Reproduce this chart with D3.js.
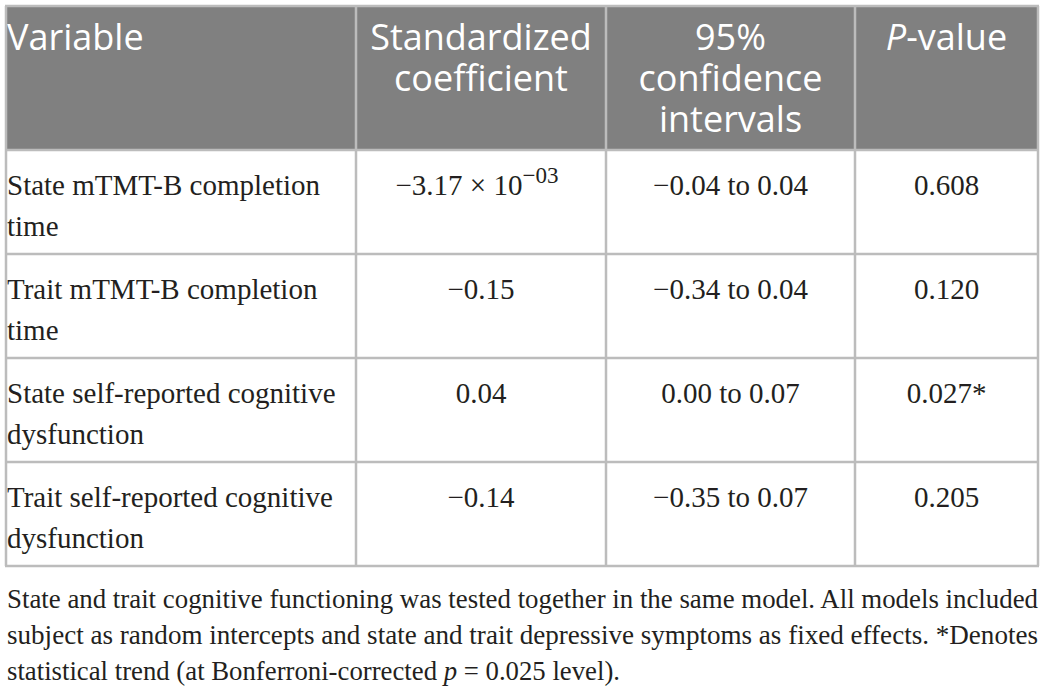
<!DOCTYPE html>
<html>
<head>
<meta charset="utf-8">
<script src="https://cdn.jsdelivr.net/npm/d3@7"></script>
<style>
  body { margin: 0; background: #fff; }
</style>
</head>
<body>
<script>
// table content
var headers = [["Variable"], ["Standardized", "coefficient"], ["95%", "confidence", "intervals"], ["P-value"]];
var variables = [
  ["State mTMT-B completion", "time"],
  ["Trait mTMT-B completion", "time"],
  ["State self-reported cognitive", "dysfunction"],
  ["Trait self-reported cognitive", "dysfunction"]
];
var coefs = ["\u22123.17 \u00d7 10|\u221203", "\u22120.15", "0.04", "\u22120.14"];
var cis = ["\u22120.04 to 0.04", "\u22120.34 to 0.04", "0.00 to 0.07", "\u22120.35 to 0.07"];
var pvalues = ["0.608", "0.120", "0.027*", "0.205"];
var notes = [
  "State and trait cognitive functioning was tested together in the same model. All models included",
  "subject as random intercepts and state and trait depressive symptoms as fixed effects. *Denotes",
  "statistical trend (at Bonferroni-corrected |p| = 0.025 level)."
];

var W = 1044, H = 695;
var svg = d3.select("body").append("svg")
    .attr("width", W)
    .attr("height", H);

// column edges and row bands
var colEdges = [6, 356, 606, 855, 1038];
var cols = d3.range(4);
var colX = d3.scaleOrdinal().domain(cols).range(colEdges.slice(0, 4));
var colW = function(i) { return colEdges[i + 1] - colEdges[i]; };
var y = d3.scaleBand().domain(d3.range(variables.length)).range([150, 566]);
var headTop = 6, headBottom = 150;
var lineColor = "#bcbcbc";

// header background
svg.append("rect")
    .attr("x", colEdges[0]).attr("y", headTop)
    .attr("width", colEdges[4] - colEdges[0]).attr("height", headBottom - headTop)
    .attr("fill", "#808080");

// header text
cols.forEach(function(i) {
  var g = svg.append("text")
      .attr("font-family", "'Open Sans', sans-serif")
      .attr("font-size", 36)
      .attr("fill", "#fff")
      .attr("text-anchor", i == 0 ? "start" : "middle");
  headers[i].forEach(function(line, k) {
    var t = g.append("tspan")
        .attr("x", i == 0 ? colX(i) + 1 : colX(i) + colW(i) / 2)
        .attr("y", 50 + k * 41);
    if (line == "P-value") {
      t.append("tspan").attr("font-style", "italic").text("P");
      t.append("tspan").text("-value");
    } else t.text(line);
  });
});

// body cells
var rows = svg.selectAll("g.row")
    .data(variables.map(function(v, i) {
      return {label: v, coef: coefs[i], ci: cis[i], p: pvalues[i], i: i};
    }))
  .enter().append("g")
    .attr("class", "row")
    .attr("transform", function(d) { return "translate(0," + y(d.i) + ")"; });

var serif = "'Liberation Serif', 'Times New Roman', serif";

rows.append("text")
    .attr("font-family", serif).attr("font-size", 29).attr("fill", "#231f20")
  .selectAll("tspan")
    .data(function(d) { return d.label; })
  .enter().append("tspan")
    .attr("x", colX(0) + 1)
    .attr("y", function(d, k) { return 45 + k * 41; })
    .text(function(d) { return d; });

rows.each(function(d) {
  var r = d3.select(this);
  [d.coef, d.ci, d.p].forEach(function(val, j) {
    var c = j + 1;
    var t = r.append("text")
        .attr("font-family", serif).attr("font-size", 29).attr("fill", "#231f20")
        .attr("text-anchor", "middle")
        .attr("x", colX(c) + colW(c) / 2 - (val.indexOf("|") > 0 ? 4 : 0))
        .attr("y", 45);
    var parts = val.split("|");
    t.append("tspan").text(parts[0]);
    if (parts.length > 1) {
      t.append("tspan").attr("font-size", 23).attr("dy", -12).text(parts[1]);
    }
  });
});

// grid lines
var hLines = [headTop].concat(y.domain().map(function(i) { return y(i); })).concat([566]);
svg.selectAll("line.h")
    .data(hLines)
  .enter().append("line")
    .attr("class", "h")
    .attr("x1", colEdges[0] - 1).attr("x2", colEdges[4] + 1)
    .attr("y1", function(d) { return d; }).attr("y2", function(d) { return d; })
    .attr("stroke", lineColor).attr("stroke-width", 2.5);

svg.selectAll("line.v")
    .data(colEdges)
  .enter().append("line")
    .attr("class", "v")
    .attr("x1", function(d) { return d; }).attr("x2", function(d) { return d; })
    .attr("y1", headTop).attr("y2", 566)
    .attr("stroke", lineColor).attr("stroke-width", 2.5);

// footnote
var noteWidths = [1031, 1031, 613];
notes.forEach(function(line, k) {
  var t = svg.append("text")
      .attr("font-family", serif).attr("font-size", 27).attr("fill", "#231f20")
      .attr("x", 7).attr("y", 608 + k * 36)
      .attr("textLength", noteWidths[k])
      .attr("lengthAdjust", "spacingAndGlyphs");
  line.split("|").forEach(function(part, j) {
    var s = t.append("tspan").text(part);
    if (j % 2 == 1) s.attr("font-style", "italic");
  });
});
</script>
</body>
</html>
